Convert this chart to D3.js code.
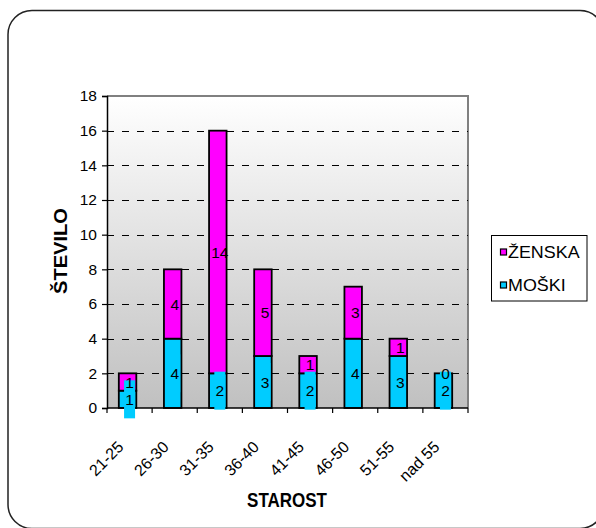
<!DOCTYPE html>
<html>
<head>
<meta charset="utf-8">
<script src="https://cdn.jsdelivr.net/npm/d3@7"></script>
<style>
  html, body { margin: 0; padding: 0; background: #fff; }
  svg { display: block; font-family: "Liberation Sans", Arial, sans-serif; }
</style>
</head>
<body>
<svg id="chart" width="596" height="528"></svg>
<script>
// Starostne skupine in število oseb po spolu
const categories = ["21-25", "26-30", "31-35", "36-40", "41-45", "46-50", "51-55", "nad 55"];
const moski = [1, 4, 2, 3, 2, 4, 3, 2];
const zenska = [1, 4, 14, 5, 1, 3, 1, 0];
const yTicks = [0, 2, 4, 6, 8, 10, 12, 14, 16, 18];
const seriesNames = ["ŽENSKA", "MOŠKI"];
const colors = { "MOŠKI": "#00ccff", "ŽENSKA": "#ff00ff" };

const svg = d3.select("#chart");

// outer rounded frame
svg.append("rect")
  .attr("x", 8).attr("y", 10.5)
  .attr("width", 596).attr("height", 518)
  .attr("rx", 24).attr("ry", 24)
  .attr("fill", "#fff").attr("stroke", "#222").attr("stroke-width", 1.5);

const plot = { left: 107, right: 468, top: 96, bottom: 408 };

const x = d3.scaleBand().domain(categories).range([plot.left, plot.right]).paddingInner(0).paddingOuter(0);
const y = d3.scaleLinear().domain([0, 18]).range([plot.bottom, plot.top]);

// plot area gradient background
const defs = svg.append("defs");
const grad = defs.append("linearGradient").attr("id", "bg").attr("x1", 0).attr("y1", 0).attr("x2", 0).attr("y2", 1);
grad.append("stop").attr("offset", "0%").attr("stop-color", "#ffffff");
grad.append("stop").attr("offset", "100%").attr("stop-color", "#c0c0c0");

svg.append("rect")
  .attr("x", plot.left).attr("y", plot.top)
  .attr("width", plot.right - plot.left).attr("height", plot.bottom - plot.top)
  .attr("fill", "url(#bg)");

// plot area border (top and right)
svg.append("path")
  .attr("d", `M${plot.left},${plot.top}H${plot.right}V${plot.bottom}`)
  .attr("fill", "none").attr("stroke", "#808080").attr("stroke-width", 2);

// dashed gridlines
svg.append("g").selectAll("line")
  .data(yTicks.filter(t => t > 0 && t < 18))
  .join("line")
  .attr("x1", plot.left).attr("x2", plot.right)
  .attr("y1", d => Math.round(y(d)) + 0.5).attr("y2", d => Math.round(y(d)) + 0.5)
  .attr("stroke", "#000").attr("stroke-width", 1)
  .attr("stroke-dasharray", "7,8");

// stacked bars
const stackData = categories.map((c, i) => ({ cat: c, "MOŠKI": moski[i], "ŽENSKA": zenska[i] }));
const stack = d3.stack().keys(["MOŠKI", "ŽENSKA"])(stackData);
const barW = 17.5;
const barX = c => x(c) + x.bandwidth() / 2 - 2 - barW / 2;

const barG = svg.append("g");
stack.forEach(layer => {
  barG.selectAll(null)
    .data(layer.filter(d => d[1] - d[0] > 0))
    .join("rect")
    .attr("x", d => barX(d.data.cat))
    .attr("y", d => y(d[1]))
    .attr("width", barW)
    .attr("height", d => y(d[0]) - y(d[1]))
    .attr("fill", colors[layer.key])
    .attr("stroke", "#000").attr("stroke-width", 1.8);
});

// axes
const yAxis = svg.append("g")
  .attr("transform", `translate(${plot.left},0)`)
  .call(d3.axisLeft(y).tickValues(yTicks).tickSize(5).tickPadding(5));
yAxis.select(".domain").attr("stroke", "#000").attr("stroke-width", 1.5);
yAxis.selectAll(".tick line").attr("stroke", "#000").attr("stroke-width", 1.2);
yAxis.selectAll(".tick text")
  .attr("font-size", 15.5)
  .attr("font-family", "Liberation Sans, Arial, sans-serif")
  .attr("fill", "#000");

svg.append("line")
  .attr("x1", plot.left).attr("x2", plot.right)
  .attr("y1", plot.bottom).attr("y2", plot.bottom)
  .attr("stroke", "#000").attr("stroke-width", 1.5);

const edges = categories.map(c => x(c)).concat([x.range()[1]]);
svg.append("g").selectAll("line")
  .data(edges)
  .join("line")
  .attr("x1", d => d).attr("x2", d => d)
  .attr("y1", plot.bottom).attr("y2", plot.bottom + 5)
  .attr("stroke", "#000").attr("stroke-width", 1.2);

// category labels, rotated
svg.append("g").selectAll("text")
  .data(categories)
  .join("text")
  .attr("transform", d => `translate(${x(d) + x.bandwidth() / 2 - 5},448) rotate(-45)`)
  .attr("text-anchor", "end")
  .attr("font-size", 16)
  .attr("fill", "#000")
  .text(d => d);

// male value labels with their cyan boxes
const maleLayer = stack[0];
const femaleLayer = stack[1];
svg.append("g").selectAll("rect")
  .data(maleLayer)
  .join("rect")
  .attr("x", d => x(d.data.cat) + x.bandwidth() / 2 - 5.5)
  .attr("y", d => y((d[0] + d[1]) / 2) - 19)
  .attr("width", 11).attr("height", 38)
  .attr("fill", colors["MOŠKI"]);

const labelG = svg.append("g").attr("font-size", 15.5).attr("text-anchor", "middle").attr("fill", "#000");
[femaleLayer, maleLayer].forEach(layer => {
  labelG.selectAll(null)
    .data(layer)
    .join("text")
    .attr("x", d => x(d.data.cat) + x.bandwidth() / 2)
    .attr("y", d => y((d[0] + d[1]) / 2) + 5.5)
    .text(d => d[1] - d[0]);
});

// axis titles
svg.append("text")
  .attr("transform", `translate(287,507) scale(1,1.15)`)
  .attr("text-anchor", "middle")
  .attr("font-size", 17).attr("font-weight", "bold")
  .text("STAROST");

svg.append("text")
  .attr("transform", `translate(67,251) scale(1,1.15) rotate(-90)`)
  .attr("text-anchor", "middle")
  .attr("font-size", 17.5).attr("font-weight", "bold")
  .text("ŠTEVILO");

// legend
const legend = svg.append("g");
legend.append("rect")
  .attr("x", 491.5).attr("y", 235.5).attr("width", 95.5).attr("height", 65.5)
  .attr("fill", "#fff").attr("stroke", "#000").attr("stroke-width", 1);
seriesNames.forEach((name, i) => {
  const cy = 252 + i * 33;
  legend.append("rect")
    .attr("x", 500.5).attr("y", cy - 3)
    .attr("width", 6).attr("height", 6)
    .attr("fill", colors[name]).attr("stroke", "#000").attr("stroke-width", 1.2);
  legend.append("text")
    .attr("transform", `translate(508,${cy + 6}) scale(1.12,1)`)
    .attr("font-size", 16)
    .attr("fill", "#000")
    .text(name);
});
</script>
</body>
</html>
